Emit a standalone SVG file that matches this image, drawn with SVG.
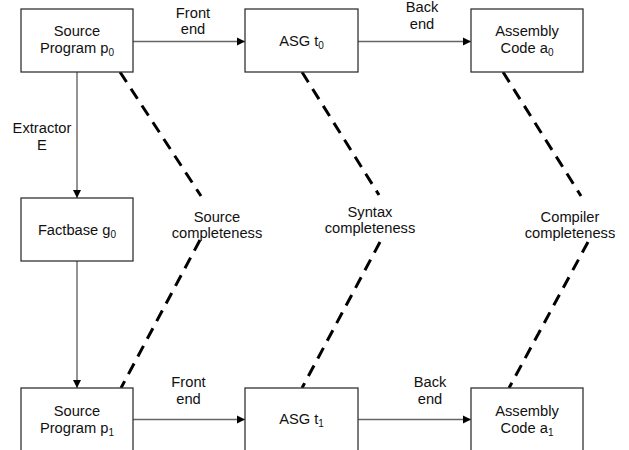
<svg xmlns="http://www.w3.org/2000/svg" width="629" height="450" viewBox="0 0 629 450">
<defs>
<style>
.box{fill:#fff;stroke:#333;stroke-width:1.3}
.t{font-family:"Liberation Sans",Arial,sans-serif;font-size:14.7px;fill:#111;text-anchor:middle}
.s{font-size:10px}
.arr{stroke:#666;stroke-width:1.4;fill:none}
.dash{stroke:#000;stroke-width:3;fill:none;stroke-dasharray:12 8}
</style>
<marker id="ah" markerWidth="10" markerHeight="10" refX="9" refY="5" orient="auto" markerUnits="userSpaceOnUse">
<path d="M1,1 L9,5 L1,9 Z" fill="#000"/>
</marker>
</defs>
<rect width="629" height="450" fill="#fff"/>
<g id="connectors">
<line class="arr" x1="133" y1="41.5" x2="245" y2="41.5" marker-end="url(#ah)"/>
<line class="arr" x1="358" y1="41.5" x2="471" y2="41.5" marker-end="url(#ah)"/>
<line class="arr" x1="77" y1="72" x2="77" y2="198" marker-end="url(#ah)"/>
<line class="arr" x1="77" y1="261" x2="77" y2="388" marker-end="url(#ah)"/>
<line class="arr" x1="133" y1="419.5" x2="245" y2="419.5" marker-end="url(#ah)"/>
<line class="arr" x1="358" y1="419.5" x2="471" y2="419.5" marker-end="url(#ah)"/>
<line class="dash" x1="120" y1="72" x2="201" y2="196"/>
<line class="dash" x1="200" y1="240" x2="121" y2="388"/>
<line class="dash" x1="302" y1="72" x2="379" y2="195"/>
<line class="dash" x1="380" y1="242" x2="302" y2="388"/>
<line class="dash" x1="503" y1="72" x2="581" y2="196"/>
<line class="dash" x1="588" y1="242" x2="509" y2="388"/>
<text class="t" x="193" y="17.5">Front</text>
<text class="t" x="193" y="34">end</text>
<text class="t" x="422" y="12">Back</text>
<text class="t" x="422" y="29">end</text>
<text class="t" x="42" y="133">Extractor</text>
<text class="t" x="42" y="149.5">E</text>
<text class="t" x="217" y="221.5">Source</text>
<text class="t" x="217" y="238">completeness</text>
<text class="t" x="370" y="216.5">Syntax</text>
<text class="t" x="370" y="233">completeness</text>
<text class="t" x="570" y="221.5">Compiler</text>
<text class="t" x="570" y="238">completeness</text>
<text class="t" x="188.5" y="387">Front</text>
<text class="t" x="188.5" y="403.5">end</text>
<text class="t" x="430" y="387">Back</text>
<text class="t" x="430" y="403.5">end</text>
</g>
<g id="p0">
<rect class="box" x="21" y="9" width="112" height="63"/>
<text class="t" x="77" y="36">Source</text>
<text class="t" x="77" y="53">Program p<tspan class="s" dy="3">0</tspan></text>
</g>
<g id="t0">
<rect class="box" x="245" y="9" width="113" height="63"/>
<text class="t" x="301.5" y="46">ASG t<tspan class="s" dy="3">0</tspan></text>
</g>
<g id="a0">
<rect class="box" x="471" y="9" width="112" height="63"/>
<text class="t" x="527" y="36">Assembly</text>
<text class="t" x="527" y="53">Code a<tspan class="s" dy="3">0</tspan></text>
</g>
<g id="g0">
<rect class="box" x="21" y="198" width="112" height="63"/>
<text class="t" x="77" y="235">Factbase g<tspan class="s" dy="3">0</tspan></text>
</g>
<g id="p1">
<rect class="box" x="21" y="388" width="112" height="63"/>
<text class="t" x="77" y="416">Source</text>
<text class="t" x="77" y="432.5">Program p<tspan class="s" dy="3">1</tspan></text>
</g>
<g id="t1">
<rect class="box" x="245" y="388" width="113" height="63"/>
<text class="t" x="301.5" y="424">ASG t<tspan class="s" dy="3">1</tspan></text>
</g>
<g id="a1">
<rect class="box" x="471" y="388" width="112" height="63"/>
<text class="t" x="527" y="416">Assembly</text>
<text class="t" x="527" y="432.5">Code a<tspan class="s" dy="3">1</tspan></text>
</g>
</svg>
